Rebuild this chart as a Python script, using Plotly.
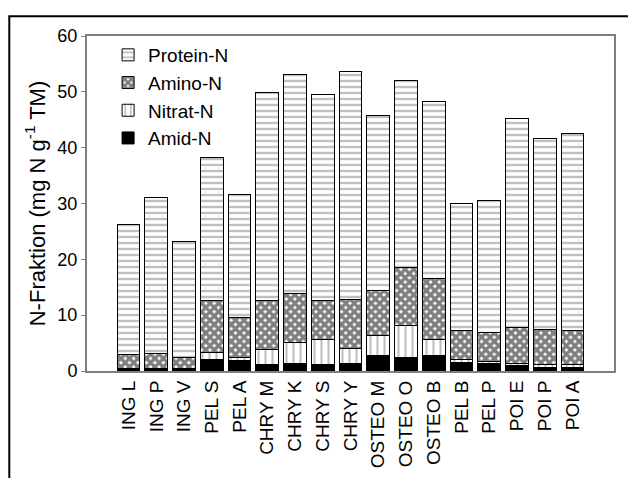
import plotly.graph_objects as go

categories = ["ING L", "ING P", "ING V", "PEL S", "PEL A", "CHRY M", "CHRY K", "CHRY S",
              "CHRY Y", "OSTEO M", "OSTEO O", "OSTEO B", "PEL B", "PEL P", "POI E", "POI P", "POI A"]
amid_n    = [0.3, 0.2, 0.2, 2.1, 1.9, 1.1, 1.4, 1.1, 1.4, 2.8, 2.4, 2.8, 1.6, 1.3, 0.9, 0.6, 0.6]
nitrat_n  = [0.2, 0.2, 0.2, 1.3, 0.5, 2.8, 3.7, 4.5, 2.6, 3.5, 5.7, 2.9, 0.4, 0.4, 0.4, 0.6, 0.5]
amino_n   = [2.5, 2.8, 2.1, 9.2, 7.1, 8.7, 8.7, 7.0, 8.8, 8.2, 10.5, 10.9, 5.3, 5.2, 6.5, 6.3, 6.2]
protein_n = [23.2, 27.9, 20.7, 25.7, 22.1, 37.3, 39.3, 37.0, 40.8, 31.3, 33.4, 31.6, 22.7, 23.7, 37.5, 34.1, 35.2]
y_ticks = [0, 10, 20, 30, 40, 50, 60]

FONT = "Arial, Liberation Sans, sans-serif"
GRAY = "#808080"

fig = go.Figure()

series = [
    ("Amid-N", amid_n, 4, dict(color="black")),
    ("Nitrat-N", nitrat_n, 3, dict(color="white", pattern=dict(shape="|", fgcolor=GRAY, bgcolor="white", size=7, solidity=0.3))),
    ("Amino-N", amino_n, 2, dict(color="white", pattern=dict(shape="x", fgcolor="black", bgcolor="white", size=6, solidity=0.8))),
    ("Protein-N", protein_n, 1, dict(color="white", pattern=dict(shape="-", fgcolor=GRAY, bgcolor="white", size=6, solidity=0.4))),
]
for name, vals, rank, mk in series:
    mk = dict(mk)
    mk["line"] = dict(color="black", width=1)
    fig.add_trace(go.Bar(x=categories, y=vals, name=name, marker=mk, legendrank=rank))

fig.update_layout(
    width=628, height=480,
    margin=dict(l=87, r=12, t=36, b=106),
    barmode="stack", bargap=0.18,
    paper_bgcolor="white", plot_bgcolor="white",
    font=dict(family=FONT, size=18, color="black"),
    showlegend=True,
    legend=dict(x=0.04, y=1.0, xanchor="left", yanchor="top",
                traceorder="normal",
                font=dict(size=19), bgcolor="rgba(0,0,0,0)"),
    xaxis=dict(type="category", range=[-1.5, 17.5], tickangle=-90, ticks="",
               showline=True, linecolor=GRAY, linewidth=2, mirror=True,
               tickfont=dict(size=19), showgrid=False),
    yaxis=dict(range=[0, 60], tickvals=y_ticks, ticks="outside", ticklen=4, tickcolor=GRAY,
               showline=True, linecolor=GRAY, linewidth=2, mirror=True, showgrid=False,
               zeroline=False, tickfont=dict(size=18),
               title=dict(text="N-Fraktion (mg N g<sup>-1</sup> TM)", font=dict(size=22), standoff=6)),
    shapes=[
        dict(type="line", xref="paper", yref="paper", x0=(9 - 87) / 529, x1=(9 - 87) / 529,
             y0=(374 - 16) / 338, y1=(374 - 482) / 338, line=dict(color="black", width=2)),
        dict(type="line", xref="paper", yref="paper", x0=(8 - 87) / 529, x1=(630 - 87) / 529,
             y0=(374 - 16) / 338, y1=(374 - 16) / 338, line=dict(color="black", width=2)),
    ],
)

fig.write_html("out.html")
